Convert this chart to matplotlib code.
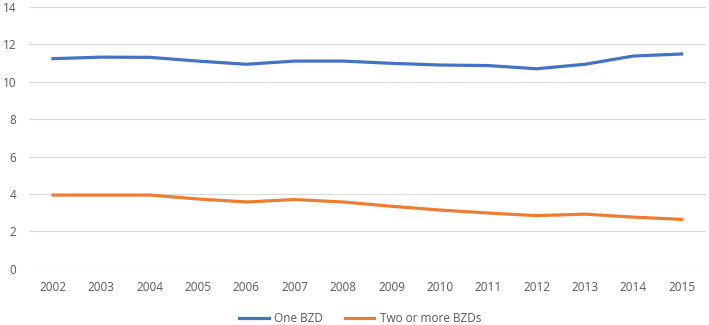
import numpy as np
import matplotlib.pyplot as plt

plt.rcParams['font.family'] = ['Open Sans', 'DejaVu Sans']

# ---- data ----
years = np.arange(2002, 2016)
one_bzd = [11.23, 11.31, 11.30, 11.10, 10.93, 11.10, 11.10, 10.98,
           10.89, 10.86, 10.69, 10.93, 11.37, 11.48]
two_plus = [3.94, 3.94, 3.94, 3.73, 3.57, 3.70, 3.57, 3.34,
            3.14, 2.98, 2.84, 2.92, 2.76, 2.64]
labels = ['One BZD', 'Two or more BZDs']

# ---- plot ----
fig = plt.figure(figsize=(7.09, 3.25), dpi=100)
ax = fig.add_axes([0.0406, 0.173, 0.955, 0.806])

ax.plot(years, one_bzd, color='#4472C4', lw=2.3, label=labels[0])
ax.plot(years, two_plus, color='#ED7D31', lw=2.3, label=labels[1])

ax.set_xlim(2001.5, 2015.5)
ax.set_ylim(0, 14)
ax.set_yticks(range(0, 15, 2))
ax.set_xticks(years)
ax.grid(axis='y', color='#D9D9D9', lw=0.8)
ax.set_axisbelow(True)
for s in ax.spines.values():
    s.set_visible(False)
ax.tick_params(length=0, colors='#595959', labelsize=8.5)
ax.tick_params(axis='y', pad=9)
ax.tick_params(axis='x', pad=9)

fig.legend(loc='center', bbox_to_anchor=(0.508, 0.021), ncol=2,
           frameon=False, fontsize=8.5, labelcolor='#595959',
           handlelength=2.5, handletextpad=0.5, columnspacing=1.8)

fig.savefig('out.png', dpi=100)
